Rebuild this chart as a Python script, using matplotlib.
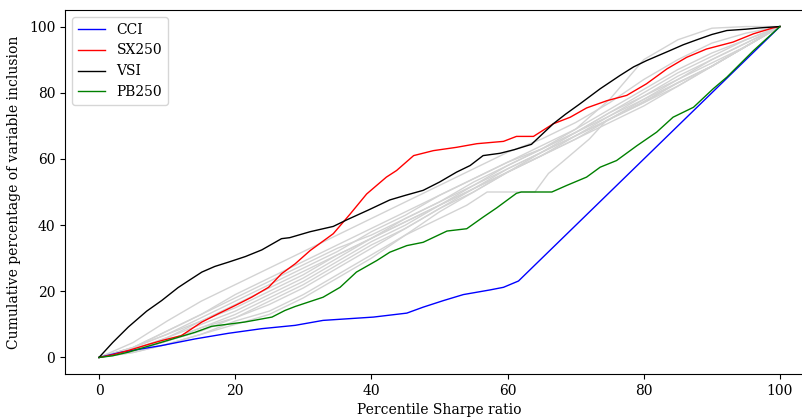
import matplotlib
matplotlib.use("Agg")
import matplotlib.pyplot as plt

plt.rcParams['font.family'] = ['DejaVu Serif']

# --- data -------------------------------------------------------------
cci_x = [0, 3.3, 9.2, 14.1, 19, 23.9, 28.8, 32.9, 40.3, 45.2, 47.6, 50.6, 53.5, 57.4, 59.4, 61.6, 100]
cci_y = [0, 1.6, 3.6, 5.6, 7.3, 8.7, 9.7, 11.2, 12.2, 13.4, 15.2, 17.2, 19.0, 20.4, 21.2, 23.1, 100]

sx_x = [0, 2, 4.3, 7, 9.2, 12.1, 15.1, 17.5, 20, 22.4, 24.9, 26.8, 28.8, 31, 34.4, 36.9, 39.3, 42.2,
        43.7, 46.2, 49.1, 52.5, 55.5, 59.4, 61.3, 63.8, 66.7, 69.2, 71.6, 74.6, 77.5, 80.4, 83.4, 86.3,
        89.2, 93.1, 96.1, 99, 100]
sx_y = [0, 0.8, 2.1, 3.8, 5.1, 6.6, 10.7, 13.2, 15.7, 18.2, 21.2, 25.3, 28.3, 32.3, 37.4, 43.4, 49.4, 54.5,
        56.5, 61.0, 62.5, 63.5, 64.6, 65.3, 66.8, 66.8, 70.6, 72.6, 75.4, 77.6, 79.2, 82.7, 87.2, 90.7,
        93.2, 95.3, 97.8, 99.6, 100]

vsi_x = [0, 2, 4.3, 7, 9.2, 11.6, 13, 15.1, 17, 19, 21.5, 23.9, 26.8, 28, 31, 34.4, 36.4, 39.5, 42.7,
         45, 47.6, 50, 52.5, 54.5, 56.4, 58.9, 61, 63.5, 66.7, 68.5, 70.6, 73.6, 76.5, 78.5, 80.4, 83.8,
         85.8, 87.8, 90, 92.2, 95, 97.1, 100]
vsi_y = [0, 4.5, 9.2, 14.0, 17.2, 21.1, 23.0, 25.8, 27.5, 28.8, 30.5, 32.5, 35.9, 36.2, 38.0, 39.6, 41.6,
         44.5, 47.6, 49.0, 50.5, 53.0, 56.0, 58.0, 61.0, 61.7, 62.8, 64.4, 70.6, 73.5, 76.6, 81.2, 85.2,
         87.8, 89.7, 92.7, 94.5, 96.0, 97.6, 98.8, 99.2, 99.6, 100]

pb_x = [0, 2, 4.3, 9.2, 14.1, 16.5, 21.4, 25.4, 27.3, 28.8, 32.9, 35.4, 37.8, 40.8, 42.7, 45.2, 47.6,
        51.1, 54, 56.4, 58.4, 61.3, 62, 66.5, 68.7, 71.6, 73.6, 76, 79, 81.9, 84.3, 87.3, 90.2, 92.2,
        96.1, 100]
pb_y = [0, 0.5, 1.6, 4.6, 7.6, 9.4, 10.7, 12.2, 14.2, 15.4, 18.2, 21.2, 25.8, 29.3, 31.8, 33.8, 34.8,
        38.2, 38.9, 42.4, 45.2, 49.6, 50.0, 50.0, 52.0, 54.5, 57.5, 59.5, 64.0, 68.1, 72.6, 75.6, 81.2,
        84.7, 92.7, 100]

grid_x = [0, 5, 10, 15, 20, 25, 30, 35, 40, 45, 50, 55, 60, 65, 70, 75, 80, 85, 90, 95, 100]
gray_1 = [0, 4.5, 11, 17, 22, 27, 32, 37, 42, 47, 52, 57, 62, 66, 71, 77, 84, 90, 95, 98, 100]
gray_2 = [0, 3, 8, 13, 19, 24, 29, 34, 39, 44, 49, 54, 59, 63, 69, 78, 90, 96, 99.5, 100, 100]
gray_3 = [0, 3, 7, 12, 17, 22, 27, 32, 38, 43, 49, 54, 59, 64, 69, 75, 81, 87, 92, 96, 100]
gray_4 = [0, 2.5, 6, 11, 15, 20, 25, 31, 36, 42, 47, 53, 58, 63, 68, 74, 80, 86, 91, 96, 100]
gray_5 = [0, 2, 5, 9, 13, 18, 23, 29, 35, 40, 46, 52, 57, 62, 68, 73, 79, 85, 90, 95, 100]
gray_6 = [0, 3, 8, 13, 18, 23, 28, 33, 37, 42, 47, 52, 58, 63, 68, 74, 79, 84, 90, 95, 100]
gray_7 = [0, 2, 5, 9, 12, 16, 21, 27, 33, 39, 45, 50, 56, 61, 67, 72, 78, 84, 89, 94, 100]
gray_8 = [0, 2, 6, 10, 14, 19, 24, 30, 36, 41, 46, 51, 56, 62, 67, 73, 78, 83, 88, 94, 100]
gray_10 = [0, 1.5, 4, 7, 11, 14, 19, 25, 31, 37, 44, 50, 56, 61, 66, 72, 77, 83, 88, 94, 100]
gray_11 = [0, 2, 5, 8, 12, 17, 22, 28, 34, 39, 45, 51, 57, 62, 67, 72, 77, 82, 88, 94, 100]
gray_12 = [0, 3, 7, 11, 16, 21, 26, 31, 36, 41, 46, 51, 56, 61, 66, 71, 76, 82, 88, 94, 100]
gray_low_x = [0, 5, 10, 15, 20, 25, 30, 35, 40, 45, 50, 54, 57, 64, 66, 68, 72, 74.5, 79.4, 85, 90, 95, 100]
gray_low_y = [0, 1.5, 4, 7, 10, 13, 18, 24, 30, 37, 42, 46, 50, 50, 55.6, 59, 66, 71.6, 76.7, 83, 88, 94, 100]

gray_series = [gray_1, gray_2, gray_3, gray_4, gray_5, gray_6, gray_7, gray_8, gray_10, gray_11, gray_12]

# --- plot -------------------------------------------------------------
fig = plt.figure(figsize=(8.03, 4.18), dpi=100)
ax = fig.add_axes([65 / 803, 44 / 418, 749 / 803, 364 / 418])

for g in gray_series:
    ax.plot(grid_x, g, color='lightgray', lw=1)
ax.plot(gray_low_x, gray_low_y, color='lightgray', lw=1)

ax.plot(cci_x, cci_y, color='blue', lw=1, label='CCI')
ax.plot(sx_x, sx_y, color='red', lw=1, label='SX250')
ax.plot(vsi_x, vsi_y, color='black', lw=1, label='VSI')
ax.plot(pb_x, pb_y, color='green', lw=1, label='PB250')

ax.set_xlim(-5, 105)
ax.set_ylim(-5, 105)
ax.set_xticks([0, 20, 40, 60, 80, 100])
ax.set_yticks([0, 20, 40, 60, 80, 100])
ax.set_xlabel('Percentile Sharpe ratio')
ax.set_ylabel('Cumulative percentage of variable inclusion', labelpad=6)
ax.legend(loc='upper left')

fig.savefig('out.png', dpi=100)
